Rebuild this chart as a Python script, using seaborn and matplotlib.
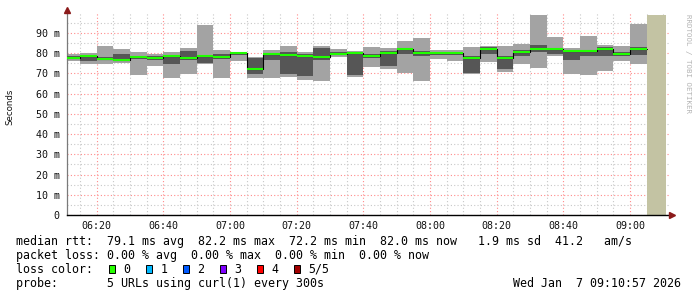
import numpy as np
import pandas as pd
import matplotlib
matplotlib.use("Agg")
import matplotlib.pyplot as plt
import matplotlib.dates as mdates
from matplotlib.patches import Rectangle
import seaborn as sns

# ---------------- data ----------------
graph_start = pd.Timestamp("2026-01-07 06:10:57")
graph_end = pd.Timestamp("2026-01-07 09:10:57")
slot_start = pd.date_range("2026-01-07 06:10", periods=35, freq="5min")
unknown_start = pd.Timestamp("2026-01-07 09:05")

rtt_min = [76.3, 74.6, 74.9, 75.2, 69.3, 73.8, 67.8, 69.8, 74.6, 67.7,
           76.2, 67.8, 67.5, 68.3, 66.7, 66.2, 78.2, 68.3, 73.3, 72.1,
           70.0, 66.2, 77.2, 76.2, 69.5, 75.7, 70.8, 74.6, 72.8, 78.7,
           69.8, 69.3, 71.1, 76.0, 74.6]
rtt_q1 = [77.0, 76.2, 76.5, 76.9, 77.2, 76.8, 74.7, 76.5, 75.2, 76.9,
          79.0, 69.6, 76.5, 69.5, 68.8, 76.5, 79.0, 69.1, 77.5, 73.7,
          79.8, 78.7, 79.2, 79.2, 70.3, 79.8, 72.0, 78.7, 80.7, 79.5,
          76.5, 78.7, 78.7, 78.7, 79.0]
rtt_q3 = [78.4, 78.4, 78.3, 79.7, 78.6, 78.5, 78.7, 81.2, 78.2, 79.8,
          80.5, 77.7, 79.8, 80.7, 79.8, 82.6, 80.7, 80.7, 79.5, 81.0,
          82.8, 81.0, 80.5, 80.5, 78.5, 83.1, 78.5, 81.5, 84.0, 82.8,
          80.7, 81.5, 83.1, 80.7, 83.1]
rtt_max = [79.7, 80.2, 83.5, 82.0, 80.5, 79.8, 80.5, 82.5, 94.0, 81.5,
           80.7, 78.2, 81.5, 83.6, 80.7, 83.5, 82.3, 81.1, 83.1, 82.6,
           85.9, 87.6, 81.8, 81.8, 83.0, 83.6, 83.8, 84.4, 98.8, 87.9,
           82.5, 88.4, 84.0, 83.6, 94.3]
rtt_median = [77.6, 78.8, 77.0, 76.5, 78.0, 77.5, 78.5, 77.8, 78.6, 78.2,
              80.0, 72.2, 79.8, 79.0, 78.5, 78.0, 79.5, 80.0, 78.5, 80.0,
              82.0, 80.0, 80.0, 80.0, 77.4, 82.0, 77.7, 80.4, 82.0, 82.0,
              81.0, 81.0, 81.9, 79.5, 82.0]

y_ticks = [0, 10, 20, 30, 40, 50, 60, 70, 80, 90]
y_tick_labels = ["0", "10 m", "20 m", "30 m", "40 m", "50 m", "60 m", "70 m", "80 m", "90 m"]
x_tick_labels = ["06:20", "06:40", "07:00", "07:20", "07:40", "08:00", "08:20", "08:40", "09:00"]

loss_labels = ["0", "1", "2", "3", "4", "5/5"]
loss_colors = ["#26ff00", "#00b8ff", "#0059ff", "#7e00ff", "#ff0000", "#a10000"]

line_rtt = "median rtt:  79.1 ms avg  82.2 ms max  72.2 ms min  82.0 ms now   1.9 ms sd  41.2   am/s"
line_loss = "packet loss: 0.00 % avg  0.00 % max  0.00 % min  0.00 % now"
line_probe = "probe:       5 URLs using curl(1) every 300s"
stamp = "Wed Jan  7 09:10:57 2026"

# ---------------- style ----------------
sns.set_theme(style="white")
plt.rcParams["font.family"] = ["DejaVu Sans Mono", "DejaVu Sans"]

W, H = 697, 297
fig = plt.figure(figsize=(W / 100, H / 100), dpi=100)
fig.patch.set_facecolor("white")


def fx(px):
    return px / W


def fy(py):
    return 1 - py / H


ax_left, ax_right, ax_top, ax_bottom = 66.5, 668.5, 12.75, 215.0
ax = fig.add_axes([fx(ax_left), fy(ax_bottom), (ax_right - ax_left) / W, (ax_bottom - ax_top) / H])
ax.set_facecolor("white")

LIGHT = "#a3a3a3"
DARK = "#565656"
GREEN = "#20ff00"
TAN = "#c3c3a3"

xs = mdates.date2num(slot_start.to_pydatetime())
w = 5 / 1440.0
lo = np.array(rtt_min)
q1 = np.array(rtt_q1)
q3 = np.array(rtt_q3)
hi = np.array(rtt_max)
med = np.array(rtt_median)

ax.bar(xs, hi - lo, bottom=lo, width=w, align="edge", color=LIGHT, lw=0, zorder=2)
ax.bar(xs, q3 - q1, bottom=q1, width=w, align="edge", color=DARK, lw=0, zorder=3)

# unknown region
u0 = mdates.date2num(unknown_start.to_pydatetime())
u1 = mdates.date2num(graph_end.to_pydatetime())
ax.bar([u0], [hi.max()], width=u1 - u0, align="edge", color=TAN, lw=0, zorder=2)

# median step line (black) + green loss-colour segments
step_x = np.append(xs, xs[-1] + w)
step_y = np.append(med, med[-1])
step_df = pd.DataFrame({"t": step_x, "m": step_y})
sns.lineplot(data=step_df, x="t", y="m", drawstyle="steps-post", color="black", lw=0.8,
             estimator=None, sort=False, ax=ax, zorder=4, legend=False)
ax.hlines(med, xs, xs + w, color=GREEN, lw=1.5, zorder=5)

# axes limits
x0 = mdates.date2num(graph_start.to_pydatetime())
x1 = mdates.date2num(graph_end.to_pydatetime())
px_per_day = (666.5 - 66.5) / (x1 - x0)
ax.set_xlim(x0, x0 + (ax_right - ax_left) / px_per_day)
ax.set_ylim(0, 100)
ax.set_xlabel("")
ax.set_ylabel("")

# ticks / grid
major_t = pd.to_datetime(["2026-01-07 " + s for s in x_tick_labels])
minor_t = pd.date_range("2026-01-07 06:15", "2026-01-07 09:10", freq="5min")
ax.set_xticks(mdates.date2num(major_t.to_pydatetime()))
ax.set_xticklabels(x_tick_labels)
ax.set_xticks(mdates.date2num(minor_t.to_pydatetime()), minor=True)
ax.set_yticks(y_ticks)
ax.set_yticklabels(y_tick_labels)
ax.set_yticks([5, 15, 25, 35, 45, 55, 65, 75, 85, 95], minor=True)

ax.tick_params(axis="both", which="both", length=0, labelsize=7.2, labelcolor="#111111")
ax.tick_params(axis="x", pad=4.5)
ax.tick_params(axis="y", pad=5.0)
ax.grid(True, which="minor", color="#c8c8c8", ls=(0, (1, 2)), lw=0.8, zorder=0)
ax.grid(True, which="major", color="#ff8a8a", ls=(0, (1, 2)), lw=0.8, zorder=0)
ax.set_axisbelow(True)

for s in ["top", "right"]:
    ax.spines[s].set_visible(False)
ax.spines["left"].set_color("#7a7a7a")
ax.spines["left"].set_linewidth(0.9)
ax.spines["bottom"].set_color("black")
ax.spines["bottom"].set_linewidth(1.0)

# axis extensions and arrows
ax.plot([1.0, 1.004], [0, 0], transform=ax.transAxes, color="black", lw=1.0, clip_on=False, zorder=6)
ax.plot([0, 0], [1.0, 1.01], transform=ax.transAxes, color="#7a7a7a", lw=0.9, clip_on=False, zorder=6)
ax.plot([1.0058], [0], transform=ax.transAxes, marker=">", ms=4, color="#8b1a1a", mec="#8b1a1a",
        clip_on=False, zorder=7)
ax.plot([0], [1.0125], transform=ax.transAxes, marker="^", ms=4, color="#8b1a1a", mec="#8b1a1a",
        clip_on=False, zorder=7)

# labels
fig.text(fx(10), fy(107), "Seconds", rotation=90, ha="center", va="center",
         family="DejaVu Sans", fontsize=6.2, color="#111111")
fig.text(fx(688), fy(63), "RRDTOOL / TOBI OETIKER", rotation=270, ha="center", va="center",
         fontsize=5.4, color="#b4b4b4")

FS = 8.4
fig.text(fx(16), fy(245), line_rtt, ha="left", va="baseline", fontsize=FS, color="black")
fig.text(fx(16), fy(259), line_loss, ha="left", va="baseline", fontsize=FS, color="black")
fig.text(fx(16), fy(273), "loss color:", ha="left", va="baseline", fontsize=FS, color="black")
fig.text(fx(16), fy(287), line_probe, ha="left", va="baseline", fontsize=FS, color="black")
fig.text(fx(681), fy(287), stamp, ha="right", va="baseline", fontsize=FS, color="black")

for i, (lab, col) in enumerate(zip(loss_labels, loss_colors)):
    bx = 108.7 + 37 * i
    fig.add_artist(Rectangle((fx(bx), fy(272.7)), 6.7 / W, 7.3 / H, transform=fig.transFigure,
                             facecolor=col, edgecolor="black", lw=0.7))
    fig.text(fx(bx + 14.6), fy(273), lab, ha="left", va="baseline", fontsize=FS, color="black")

fig.savefig("out.png", dpi=100, facecolor="white")
